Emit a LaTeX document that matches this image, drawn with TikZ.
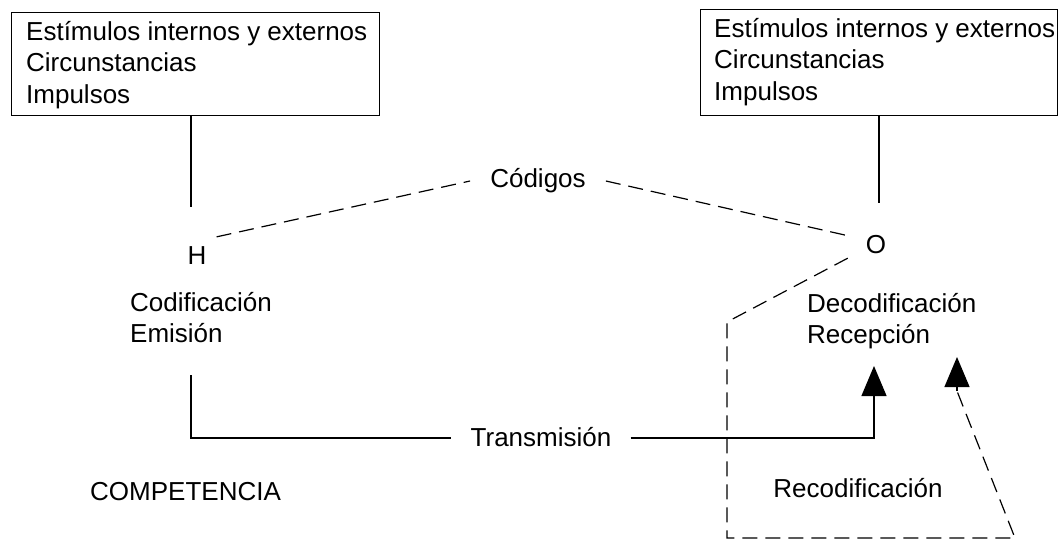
\documentclass[tikz,border=0pt]{standalone}
\usepackage{fontspec}
\setmainfont{Liberation Sans}
\usetikzlibrary{arrows.meta}
\begin{document}
\begin{tikzpicture}[x=1pt,y=-1pt,
  txt/.style={inner sep=0pt,font=\fontsize{26}{31.5}\selectfont},
  multi/.style={txt,align=left,anchor=north west},
  lab/.style={txt,inner xsep=20pt},
  ln/.style={line width=1.2pt},
  dsh/.style={line width=1.2pt,dash pattern=on 15pt off 8pt},
  tip/.style={-{Triangle[length=30pt,width=25pt]}}]
\useasboundingbox (0,0) rectangle (1058,543);
% boxes
\node[draw,ln,minimum width=368pt,minimum height=103pt,anchor=north west,inner sep=0pt] (boxL) at (11,12) {};
\node[multi] (tL) at (26,21) {Estímulos internos y externos\\Circunstancias\\Impulsos};
\node[draw,ln,minimum width=357pt,minimum height=106pt,anchor=north west,inner sep=0pt] (boxR) at (700,9) {};
\node[multi] (tR) at (714,18) {Estímulos internos y externos\\Circunstancias\\Impulsos};
% H and O
\node[txt,inner sep=10pt] (H) at (197,256) {H};
\node[txt,circle,minimum size=62pt] (O) at (876,245) {O};
\node[lab] (cod) at (538,181) {Códigos};
\node[multi] (codif) at (130,292) {Codificación\\Emisión};
\node[multi] (decod) at (807,293) {Decodificación\\Recepción};
\node[lab,inner xsep=19pt] (trans) at (541,437) {Transmisión};
\node[txt,anchor=west] (comp) at (90,492) {COMPETENCIA};
\node[txt] (recod) at (858,488) {Recodificación};
% coordinates
\coordinate (hl) at (191,207);
\coordinate (ol) at (879,203);
\coordinate (tl1) at (191,375);
\coordinate (tl2) at (191,438);
\coordinate (tr1) at (874,438);
\coordinate (a1) at (874,366);
\coordinate (d1) at (727,322);
\coordinate (d2) at (727,538);
\coordinate (d3) at (1015,538);
\coordinate (d4) at (957,391);
\coordinate (a2) at (957,357);
% lines
\draw[ln] (boxL.south -| hl) -- (hl);
\draw[ln] (boxR.south -| ol) -- (ol);
\draw[dsh] (H.north east) -- (cod.west);
\draw[dsh] (cod.east) -- (O.162);
\draw[dsh] (O.205) -- (d1) -- (d2) -- (d3) -- (d4);
\draw[ln,tip] (d4) -- (a2);
\draw[ln] (tl1) -- (tl2) -- (tl2 -| trans.west);
\draw[ln,tip] (tl2 -| trans.east) -- (tr1) -- (a1);
\end{tikzpicture}
\end{document}
